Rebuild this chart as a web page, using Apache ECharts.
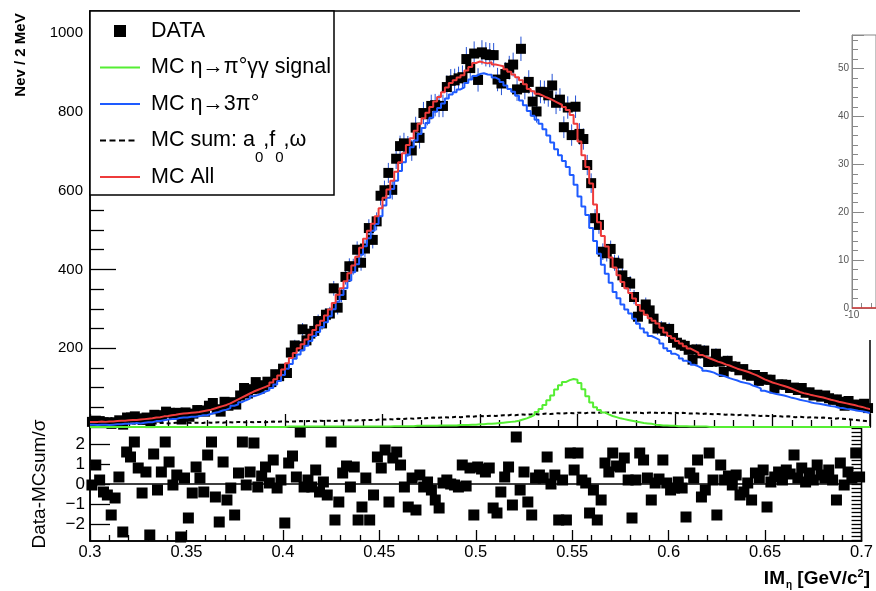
<!DOCTYPE html>
<html><head><meta charset="utf-8">
<script src="https://cdn.jsdelivr.net/npm/echarts@6/dist/echarts.min.js"></script>
<style>html,body{margin:0;padding:0;background:#fff}#c{width:876px;height:591px}</style>
</head><body><div id="c"></div>
<script>
// ---- histogram binning (2 MeV bins from 0.30 to 0.70 GeV/c^2) ----
const histMin = 0.3;
const binWidth = 0.002;

// ---- DATA counts per bin ----
const dataCounts = [
13,16,15,12,12,8,12,17,6,24,
24,27,22,18,24,10,31,24,30,39,
36,31,36,19,37,26,34,43,42,39,
54,61,45,39,64,54,63,57,80,99,
85,96,114,97,106,115,114,134,129,148,
137,189,207,205,248,220,237,244,269,263,
285,288,352,303,335,381,408,407,450,417,
453,505,475,522,587,601,645,602,681,713,
720,712,702,760,734,797,794,815,817,815,
815,863,879,880,885,888,934,911,948,881,
951,946,944,944,882,872,896,912,920,857,
960,861,876,826,801,851,850,842,867,823,
831,761,811,741,813,744,731,665,619,530,
513,445,441,452,417,415,385,368,364,330,
280,298,311,296,275,250,253,244,249,226,
214,209,206,196,171,197,187,194,165,166,
186,166,140,168,154,153,144,147,133,130,
132,117,127,120,120,98,108,108,107,99,
100,94,99,87,88,80,82,77,80,73,
69,70,64,54,66,56,57,53,59,48];

// ---- MC All (red) ----
const mcAll = [
13,13,14,13,14,14,15,16,16,17,
18,18,19,20,21,22,24,25,27,28,
30,31,33,34,35,36,37,38,40,42,
44,47,50,53,56,60,65,70,75,80,
85,90,94,98,102,106,113,121,131,146,
162,175,188,200,210,222,234,246,258,270,
283,298,315,336,352,370,390,410,432,455,
478,498,516,535,555,582,603,625,648,672,
695,716,733,752,770,784,798,812,826,838,
850,862,873,880,887,893,905,914,924,928,
925,923,926,920,918,916,908,902,895,888,
880,870,858,852,846,842,837,833,828,823,
818,812,805,792,770,725,690,660,618,565,
520,485,458,430,405,385,368,352,340,326,
310,295,285,276,270,263,252,240,231,225,
218,212,205,199,194,189,183,178,174,170,
166,163,159,156,152,148,145,142,139,135,
131,126,121,117,113,110,107,104,101,97,
93,89,86,84,81,79,77,75,72,69,
67,64,62,60,58,56,53,51,48,46];

// ---- MC eta -> 3pi0 (blue) ----
const mc3pi = [
6,5,6,6,5,6,7,7,8,8,
9,10,9,11,12,12,15,15,17,19,
20,20,23,24,24,26,26,27,30,30,
33,36,38,42,44,48,54,57,63,68,
72,78,81,85,90,93,99,108,117,132,
148,160,173,184,195,206,218,231,241,254,
266,281,299,318,335,352,372,393,413,437,
459,479,498,515,535,562,582,604,625,650,
672,692,710,727,744,759,772,785,800,810,
821,834,844,850,857,862,873,882,891,896,
898,895,894,887,882,876,867,858,851,841,
829,817,802,790,780,770,756,740,722,705,
690,675,660,640,615,585,560,538,505,472,
440,412,389,366,343,327,311,298,288,275,
262,250,240,231,226,221,212,200,193,186,
181,174,168,164,158,154,149,143,141,138,
133,131,128,124,121,118,114,112,110,105,
102,98,92,89,86,84,82,80,77,74,
72,69,67,65,62,60,59,57,55,53,
52,49,48,46,45,43,41,40,38,36];

// ---- MC eta -> pi0 gamma gamma signal (green) ----
const mcSignal = [
0,0,0,0,0,0,0,0,0,0,
0,0,0,0,0,0,0,0,0,0,
0,0,0,0,0,0,0,0,0,0,
0,0,0,0,0,0,0,0,0,0,
0,0,0,0,0,0,0,0,0,0,
1,1,1,1,1,1,1,1,1,1,
1,1,1,1,1,1,1,1,1,1,
1,1,1,1,1,1,1,2,2,2,
2,2,2,3,3,3,3,3,3,4,
4,4,4,4,5,5,5,6,6,7,
7,8,8,9,10,11,12,13,14,16,
19,22,26,31,38,46,56,68,80,95,
106,114,119,122,120,112,96,78,62,50,
43,37,32,28,25,22,20,18,16,14,
12,10,9,8,6,5,4,4,3,3,
2,2,2,1,1,1,1,1,0,0,
0,0,0,0,0,0,0,0,0,0,
0,0,0,0,0,0,0,0,0,0,
0,0,0,0,0,0,0,0,0,0,
0,0,0,0,0,0,0,0,0,0];

// ---- MC sum: a0, f0, omega (black dotted) ----
const mcSum = [
7,8,8,7,9,8,8,9,8,9,
9,8,10,9,9,10,9,10,10,9,
10,11,10,10,11,10,11,11,10,12,
11,11,12,11,12,12,11,13,12,12,
13,12,13,13,12,13,14,13,14,14,
13,14,14,15,14,15,15,14,16,15,
16,16,15,17,16,17,17,16,18,17,
18,18,17,19,19,19,20,19,21,20,
21,22,21,22,23,22,23,24,23,24,
25,24,25,26,25,26,27,26,27,28,
27,28,29,28,29,30,29,31,30,31,
32,31,32,33,32,33,34,33,34,35,
34,35,36,35,36,36,35,37,36,36,
37,36,37,36,37,36,37,36,36,37,
36,35,36,37,36,35,36,36,35,36,
35,36,35,34,35,34,33,34,33,32,
33,32,31,32,31,30,31,30,29,30,
29,28,29,28,27,28,27,26,27,26,
25,26,25,24,25,24,23,24,23,22,
21,22,21,20,19,18,17,16,15,14];

// ---- residuals (Data - MCsum)/sigma ----
const residuals = [
-0.05,0.95,0.2,-0.4,-0.55,-1.55,-0.7,0.35,-2.4,1.6,
1.35,2.1,0.8,-0.45,0.6,-2.55,1.5,-0.3,0.6,2.1,
1.1,-0.05,0.45,-2.65,0.3,-1.7,-0.45,0.85,0.3,-0.4,
1.45,2.1,-0.65,-1.9,1.1,-0.8,-0.2,-1.55,0.55,2.1,
-0.05,0.6,2.05,-0.15,0.4,0.85,0.05,1.2,-0.2,0.2,
-1.95,1.05,1.4,0.35,2.6,-0.15,0.2,-0.15,0.7,-0.4,
0.1,-0.55,2.1,-1.8,-0.9,0.55,0.9,-0.15,0.85,-1.8,
-1.15,0.3,-1.8,-0.55,1.35,0.8,1.7,-0.9,1.3,1.6,
0.95,-0.15,-1.15,0.3,-1.3,0.45,-0.15,0.1,-0.3,-0.8,
-1.2,0.05,0.2,0.0,-0.05,-0.15,0.95,-0.1,0.8,-1.55,
0.85,0.75,0.6,0.8,-1.2,-1.45,-0.4,0.35,0.85,-1.05,
2.35,-0.3,0.6,-0.9,-1.55,0.3,0.45,0.3,1.35,0.0,
0.45,-1.8,0.2,-1.8,1.55,0.7,1.55,0.2,0.05,-1.45,
-0.3,-1.8,-0.8,1.05,0.6,1.55,0.9,0.85,1.3,0.2,
-1.7,0.2,1.55,1.2,0.3,-0.8,0.05,0.25,1.2,0.05,
-0.3,-0.2,0.1,-0.2,-1.65,0.55,0.3,1.2,-0.65,-0.3,
1.55,0.2,-1.55,0.95,0.2,0.4,-0.05,0.45,-0.55,-0.4,
0.05,-0.8,0.55,0.3,0.7,-1.15,0.1,0.35,0.6,0.2,
0.7,0.5,1.45,0.3,0.8,0.1,0.55,0.2,0.95,0.45,
0.3,0.7,0.2,-0.8,1.05,-0.05,0.6,0.3,1.55,0.35];

// ---- tick values ----
const resMajorTicks = [-2, -1, 0, 1, 2];
const resMinorTicks = [-2.8,-2.6,-2.4,-2.2,-2,-1.8,-1.6,-1.4,-1.2,-1,-0.8,-0.6,-0.4,-0.2,0,
  0.2,0.4,0.6,0.8,1,1.2,1.4,1.6,1.8,2,2.2,2.4,2.6,2.8];
const insetXTicks = [-10, -8, -6];
const insetXLabels = [-10];
const residualZero = [[0.3, 0], [0.7, 0]];
const insetZero = [[-10, 0], [-5, 0]];

const NAME_DATA = 'DATA';
const NAME_SIG = 'MC \u03b7\u2192\u03c0\u00b0\u03b3\u03b3 signal';
const NAME_3PI = 'MC \u03b7\u21923\u03c0\u00b0';
const NAME_SUM = 'MC sum: a0,f0,\u03c9';
const NAME_ALL = 'MC All';

// legend icon shapes (40x20 box, corners pinned with zero-area subpaths)
const ICON_BOX_A = 'M0,0L0.01,0Z', ICON_BOX_B = 'M40,20L39.99,20Z';
const ICON_SQUARE = 'path://' + ICON_BOX_A + 'M14,4H26V16H14Z' + ICON_BOX_B;
const ICON_LINE = 'path://' + ICON_BOX_A + 'M0,9H40V11H0Z' + ICON_BOX_B;
const ICON_DASH = 'path://' + ICON_BOX_A + 'M0,9H6V11H0ZM9.5,9H15.5V11H9.5ZM19,9H25V11H19ZM28.5,9H34.5V11H28.5Z' + ICON_BOX_B;

const FONT = '"Liberation Sans", Arial, Helvetica, sans-serif';
const centers = dataCounts.map((_, i) => +(histMin + binWidth * (i + 0.5)).toFixed(4));
function stepData(vals) {
  const d = vals.map((v, i) => [centers[i], v]);
  d.unshift([histMin, vals[0]]);
  d.push([+(histMin + binWidth * vals.length).toFixed(4), vals[vals.length - 1]]);
  return d;
}
function histLine(name, vals, color, z, type) {
  return {
    name, type: 'line', xAxisIndex: 0, yAxisIndex: 0, step: 'middle',
    data: stepData(vals), symbol: 'none', showSymbol: false, z,
    lineStyle: { color, width: 2, type: type || 'solid' }, itemStyle: { color },
    emphasis: { disabled: true }, animation: false
  };
}
const blackTick = { color: '#000', width: 1.3 };
const chart = echarts.init(document.getElementById('c'), null, { renderer: 'canvas' });
chart.setOption({
  animation: false,
  backgroundColor: '#fff',
  title: {
    text: '{a|IM}{s|\u03b7}{a| [GeV/c}{p|2}{a|]}',
    right: 6, top: 568, padding: 0,
    textStyle: {
      rich: {
        a: { fontFamily: FONT, fontSize: 19, lineHeight: 22, color: '#000' },
        s: { fontFamily: FONT, fontSize: 10, lineHeight: 10, padding: [12, 0, 0, 1], color: '#000' },
        p: { fontFamily: FONT, fontSize: 11, lineHeight: 11, padding: [0, 0, 11, 0], color: '#000' }
      }
    }
  },
  legend: {
    orient: 'vertical', left: 100, top: 6.5, padding: 0,
    itemGap: -12.5, itemWidth: 40, itemHeight: 20, z: 10,
    selectedMode: false,
    data: [
      { name: NAME_DATA, icon: ICON_SQUARE, itemStyle: { color: '#000', borderWidth: 0, opacity: 1 } },
      { name: NAME_SIG, icon: ICON_LINE, itemStyle: { color: '#55ee33', borderWidth: 0 } },
      { name: NAME_3PI, icon: ICON_LINE, itemStyle: { color: '#1e5bff', borderWidth: 0 } },
      { name: NAME_SUM, icon: ICON_DASH, itemStyle: { color: '#000', borderWidth: 0 } },
      { name: NAME_ALL, icon: ICON_LINE, itemStyle: { color: '#ee3b3b', borderWidth: 0 } }
    ],
    formatter: n => n === NAME_SUM ? 'MC sum: a{s|0},f{s|0},\u03c9' : n + '{s| }',
    textStyle: {
      fontFamily: FONT, fontSize: 21.5, lineHeight: 22, color: '#000', padding: [0, 0, 0, 6],
      rich: { s: { fontFamily: FONT, fontSize: 15, lineHeight: 15, padding: [34, 0, 0, 0], color: '#000' } }
    }
  },
  graphic: [
    { type: 'rect', z: 3, shape: { x: 90, y: 11, width: 244, height: 184 },
      style: { fill: '#fff', stroke: '#000', lineWidth: 1.5 } },
    { type: 'rect', z: 50, shape: { x: 800, y: 0, width: 76, height: 340 }, style: { fill: '#fff' } },
    { type: 'text', z: 5, x: 21, y: 55, rotation: Math.PI / 2,
      style: { text: 'Nev / 2 MeV', font: 'bold 15px ' + FONT, fill: '#000',
        textAlign: 'center', textVerticalAlign: 'middle', align: 'center', verticalAlign: 'middle' } }
  ],
  grid: [
    { left: 90, top: 11, width: 780, height: 416, show: true, borderColor: '#000', borderWidth: 1.5 },
    { left: 90, top: 427, width: 780, height: 114, show: true, borderColor: '#000', borderWidth: 1.5 },
    { left: 852, top: 35, right: 0, height: 273, show: true, borderColor: '#888', borderWidth: 1, z: 60 }
  ],
  xAxis: [
    { gridIndex: 0, type: 'value', min: 0.3, max: 0.7, interval: 0.05,
      axisLine: { show: true, onZero: false, lineStyle: { color: '#000', width: 1.5 } },
      axisTick: { show: true, inside: true, length: 13, lineStyle: blackTick },
      minorTick: { show: true, splitNumber: 5, length: 7, lineStyle: blackTick },
      axisLabel: { show: false }, splitLine: { show: false } },
    { gridIndex: 1, type: 'value', min: 0.3, max: 0.7, interval: 0.05,
      axisLine: { show: true, onZero: false, lineStyle: { color: '#000', width: 1.5 } },
      axisTick: { show: true, inside: true, length: 11, lineStyle: blackTick },
      minorTick: { show: true, splitNumber: 5, length: 6, lineStyle: blackTick },
      axisLabel: { fontFamily: FONT, fontSize: 16.5, color: '#000', margin: 3 },
      splitLine: { show: false } },
    { gridIndex: 2, type: 'value', min: -10, max: -5, z: 60,
      axisLine: { show: true, onZero: false, lineStyle: { color: '#888', width: 1 } },
      axisTick: { show: true, inside: true, length: 5, customValues: insetXTicks, lineStyle: { color: '#888' } },
      axisLabel: { fontFamily: FONT, fontSize: 10, color: '#555', margin: 2, customValues: insetXLabels },
      splitLine: { show: false } }
  ],
  yAxis: [
    { gridIndex: 0, type: 'value', min: 0, max: 1056, interval: 200,
      axisLine: { show: true, lineStyle: { color: '#000', width: 1.5 } },
      axisTick: { show: true, inside: true, length: 26, lineStyle: blackTick },
      minorTick: { show: true, splitNumber: 4, length: 14, lineStyle: blackTick },
      axisLabel: { fontFamily: FONT, fontSize: 15, color: '#000', margin: 7, showMinLabel: false, showMaxLabel: false,
        formatter: v => String(v) },
      splitLine: { show: false } },
    { gridIndex: 1, type: 'value', min: -2.85, max: 2.85,
      name: 'Data-MCsum/\u03c3', nameLocation: 'middle', nameGap: 41, nameRotate: 90,
      nameTextStyle: { fontFamily: FONT, fontSize: 19, color: '#000' },
      axisLine: { show: true, lineStyle: { color: '#000', width: 1.5 } },
      axisTick: { show: true, inside: true, length: 20, customValues: resMajorTicks, lineStyle: blackTick },
      axisLabel: { fontFamily: FONT, fontSize: 17, color: '#000', margin: 5, customValues: resMajorTicks,
        formatter: v => v < 0 ? '\u2212' + (-v) : String(v) },
      splitLine: { show: false } },
    { gridIndex: 1, type: 'value', min: -2.85, max: 2.85,
      axisLine: { show: false },
      axisTick: { show: true, inside: true, length: 10, customValues: resMinorTicks, lineStyle: blackTick },
      axisLabel: { show: false }, splitLine: { show: false } },
    { gridIndex: 2, type: 'value', min: 0, max: 57, interval: 10, z: 60,
      axisLine: { show: true, lineStyle: { color: '#888', width: 1 } },
      axisTick: { show: true, inside: true, length: 12, lineStyle: { color: '#888' } },
      minorTick: { show: true, splitNumber: 5, length: 6, lineStyle: { color: '#888' } },
      axisLabel: { fontFamily: FONT, fontSize: 10, color: '#555', margin: 3, showMaxLabel: false },
      splitLine: { show: false } }
  ],
  series: [
    { name: 'errors', type: 'custom', xAxisIndex: 0, yAxisIndex: 0, z: 2,
      data: dataCounts.map((v, i) => [centers[i], v, Math.sqrt(v)]),
      encode: { x: 0, y: 1 },
      renderItem: (params, api) => {
        const x = api.value(0), y = api.value(1), e = api.value(2);
        const a = api.coord([x, y - e]), b = api.coord([x, y + e]);
        return { type: 'line', shape: { x1: a[0], y1: a[1], x2: b[0], y2: b[1] },
          style: { stroke: '#2452d6', lineWidth: 1 } };
      } },
    { name: NAME_DATA, type: 'scatter', xAxisIndex: 0, yAxisIndex: 0, z: 3,
      symbol: 'rect', symbolSize: 10, itemStyle: { color: '#000', opacity: 1 },
      data: dataCounts.map((v, i) => [centers[i], v]) },
    histLine(NAME_SUM, mcSum, '#000', 4, [4, 3]),
    histLine(NAME_SIG, mcSignal, '#55ee33', 4),
    histLine(NAME_3PI, mc3pi, '#1e5bff', 5),
    histLine(NAME_ALL, mcAll, '#ee3b3b', 6),
    { name: 'zero', type: 'line', xAxisIndex: 1, yAxisIndex: 1, data: residualZero, symbol: 'none', z: 2,
      lineStyle: { color: '#000', width: 1.5 } },
    { name: 'residuals', type: 'scatter', xAxisIndex: 1, yAxisIndex: 1, z: 3,
      symbol: 'rect', symbolSize: 11, itemStyle: { color: '#000', opacity: 1 },
      data: residuals.map((v, i) => [centers[i], v]) },
    { name: 'inset', type: 'line', xAxisIndex: 2, yAxisIndex: 3, data: insetZero, symbol: 'none', z: 61,
      lineStyle: { color: '#d33', width: 1.5 } }
  ]
});
</script></body></html>
